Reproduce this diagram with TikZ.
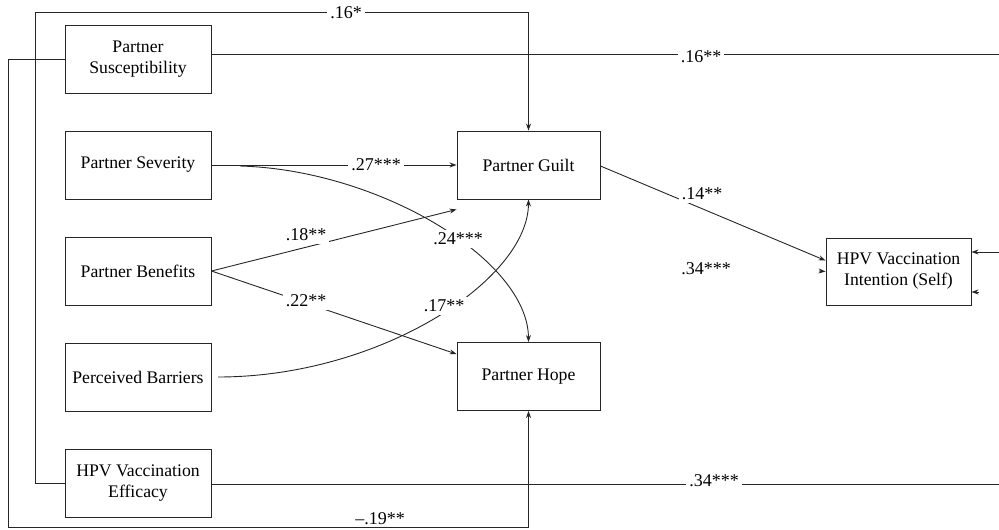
\documentclass[tikz,border=0pt]{standalone}
\usepackage{fontspec}
\setmainfont{Liberation Serif}
\usetikzlibrary{arrows.meta}
\begin{document}
\begin{tikzpicture}[x=1pt,y=-1pt,
  every node/.style={font=\fontsize{17.7}{21}\selectfont},
  box/.style={draw=black!85,line width=0.9pt,minimum width=146pt,minimum height=68pt,align=center,inner sep=2pt},
  conn/.style={draw=black!85,line width=0.9pt},
  arr/.style={conn,-{Stealth[length=7pt,width=5pt]}},
  lab/.style={fill=white,inner sep=3pt,font=\fontsize{18}{21}\selectfont}]
\useasboundingbox (0,0) rectangle (999,530);
% boxes
\node[box] (sus) at (138,59.5) {Partner\\Susceptibility};
\node[box] (sev) at (138,165) {Partner Severity};
\node[box] (ben) at (138,271) {Partner Benefits};
\node[box] (bar) at (138,377) {Perceived Barriers};
\node[box] (eff) at (138,483.5) {HPV Vaccination\\Efficacy};
\node[box,minimum width=143pt] (guilt) at (528.5,165) {Partner Guilt};
\node[box,minimum width=143pt] (hope) at (528.5,376.5) {Partner Hope};
\node[box,minimum width=145pt,minimum height=67pt] (intent) at (898.5,271.5) {HPV Vaccination\\Intention (Self)};
% coordinates
\coordinate (a1) at (35,12);
\coordinate (a2) at (8,527);
\coordinate (e1) at (999,54);
\coordinate (e2) at (999,484);
\coordinate (s1) at (240,166);
\coordinate (b1) at (218,377);
\coordinate (r1) at (999,252);
\coordinate (r2) at (979,292);
\coordinate (l1) at (819,271);
% connectors
\draw[arr] (eff.west) -| (a1) -| (guilt.north);
\draw[arr] (sus.west) -| (a2) -| (hope.south);
\draw[conn] (sus.east |- e1) -- (e1);
\draw[conn] (eff.east |- e2) -- (e2);
\draw[arr] (sev.east) -- (guilt.west);
\draw[arr] (s1) .. controls (380,170) and (528,260) .. (hope.north);
\draw[arr] (b1) .. controls (380,377) and (528,280) .. (guilt.south);
\draw[arr] (ben.east) -- ([yshift=-10pt]guilt.south west);
\draw[arr] (ben.east) -- ([yshift=-12pt]hope.north west);
\draw[arr] ([yshift=-1pt]guilt.east) -- ([yshift=-23pt]intent.north west);
\draw[arr] (r1) -- (intent.east |- r1);
\draw[arr] (r2) -- (intent.east |- r2);
\draw[arr] (l1) -- (intent.west);
% labels
\node[lab] (L1) at (346,13) {.16*};
\node[lab] (L2) at (701,57) {.16**};
\node[lab] (L3) at (376,165) {.27***};
\node[lab] (L4) at (458,239) {.24***};
\node[lab] (L5) at (306,235) {.18**};
\node[lab] (L6) at (306,301) {.22**};
\node[lab] (L7) at (444,306) {.17**};
\node[lab] (L8) at (702,194) {.14**};
\node[font=\fontsize{18}{21}\selectfont] (L9) at (706,269) {.34***};
\node[lab] (L10) at (714,481) {.34***};
\node[lab,inner ysep=1pt] (L11) at (380,519) {\textendash.19**};
\end{tikzpicture}
\end{document}
